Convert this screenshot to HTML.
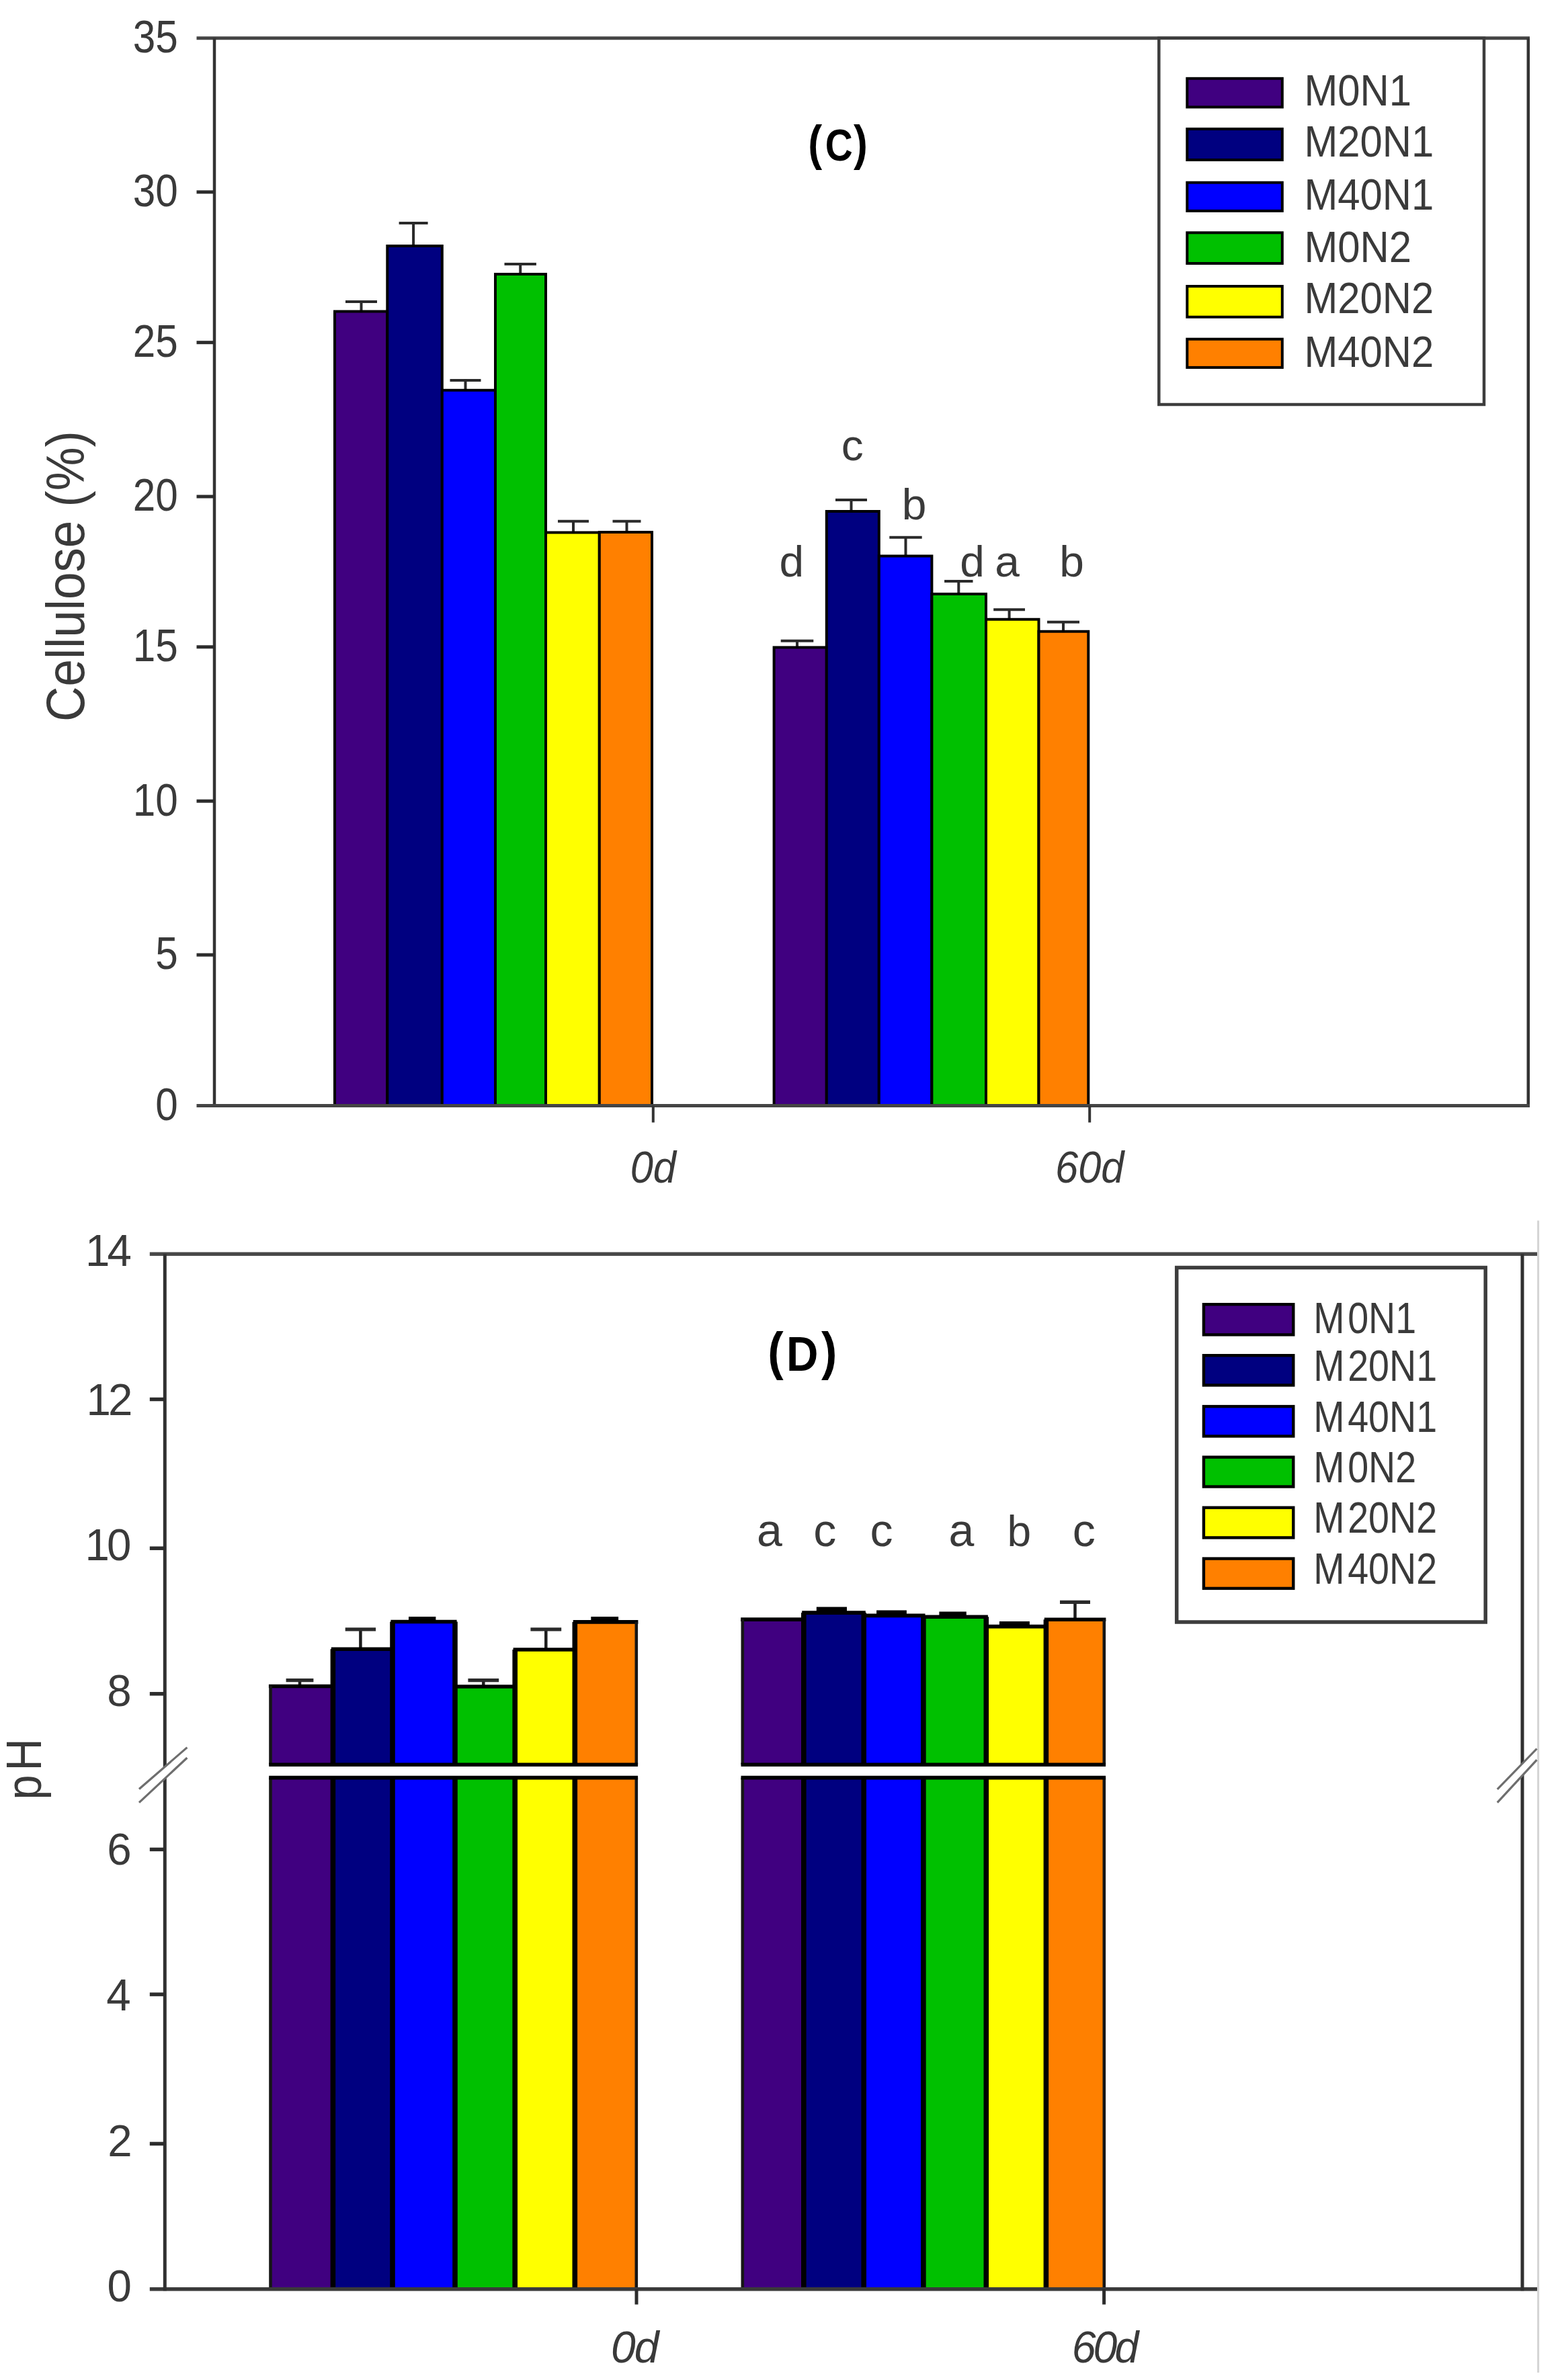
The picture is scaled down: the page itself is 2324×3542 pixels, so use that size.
<!DOCTYPE html>
<html lang="en"><head><meta charset="utf-8"><title>Cellulose and pH charts</title>
<style>
html,body{margin:0;padding:0;background:#fff;}
body{width:2324px;height:3542px;overflow:hidden;}
svg{display:block;font-family:"Liberation Sans",Arial,sans-serif;}
</style></head><body>
<svg width="2324" height="3542" viewBox="0 0 2324 3542">
<rect width="2324" height="3542" fill="#fff"/>
<g id="chartC">
<line x1="537.5" y1="449.0" x2="537.5" y2="464.5" stroke="#2a2a2a" stroke-width="4" />
<line x1="514.0" y1="449.0" x2="561.0" y2="449.0" stroke="#2a2a2a" stroke-width="4" />
<line x1="615.1" y1="332.0" x2="615.1" y2="367.0" stroke="#2a2a2a" stroke-width="4" />
<line x1="593.6" y1="332.0" x2="636.6" y2="332.0" stroke="#2a2a2a" stroke-width="4" />
<line x1="692.5" y1="566.0" x2="692.5" y2="581.7" stroke="#2a2a2a" stroke-width="4" />
<line x1="669.5" y1="566.0" x2="715.5" y2="566.0" stroke="#2a2a2a" stroke-width="4" />
<line x1="774.2" y1="393.0" x2="774.2" y2="409.0" stroke="#2a2a2a" stroke-width="4" />
<line x1="750.5" y1="393.0" x2="797.9" y2="393.0" stroke="#2a2a2a" stroke-width="4" />
<line x1="853.0" y1="775.7" x2="853.0" y2="793.5" stroke="#2a2a2a" stroke-width="4" />
<line x1="830.0" y1="775.7" x2="876.0" y2="775.7" stroke="#2a2a2a" stroke-width="4" />
<line x1="932.5" y1="775.7" x2="932.5" y2="793.0" stroke="#2a2a2a" stroke-width="4" />
<line x1="911.5" y1="775.7" x2="953.5" y2="775.7" stroke="#2a2a2a" stroke-width="4" />
<line x1="1186.0" y1="953.8" x2="1186.0" y2="964.5" stroke="#2a2a2a" stroke-width="4" />
<line x1="1161.7" y1="953.8" x2="1210.3" y2="953.8" stroke="#2a2a2a" stroke-width="4" />
<line x1="1266.5" y1="744.0" x2="1266.5" y2="762.1" stroke="#2a2a2a" stroke-width="4" />
<line x1="1243.0" y1="744.0" x2="1290.0" y2="744.0" stroke="#2a2a2a" stroke-width="4" />
<line x1="1347.5" y1="799.7" x2="1347.5" y2="828.6" stroke="#2a2a2a" stroke-width="4" />
<line x1="1323.3" y1="799.7" x2="1371.7" y2="799.7" stroke="#2a2a2a" stroke-width="4" />
<line x1="1426.3" y1="865.0" x2="1426.3" y2="885.0" stroke="#2a2a2a" stroke-width="4" />
<line x1="1405.1" y1="865.0" x2="1447.5" y2="865.0" stroke="#2a2a2a" stroke-width="4" />
<line x1="1501.6" y1="907.3" x2="1501.6" y2="922.7" stroke="#2a2a2a" stroke-width="4" />
<line x1="1478.2" y1="907.3" x2="1525.0" y2="907.3" stroke="#2a2a2a" stroke-width="4" />
<line x1="1582.0" y1="925.7" x2="1582.0" y2="940.7" stroke="#2a2a2a" stroke-width="4" />
<line x1="1558.0" y1="925.7" x2="1606.0" y2="925.7" stroke="#2a2a2a" stroke-width="4" />
<path d="M498.0,1645.5 V463.5 H576.3 V1645.5" fill="#400080" stroke="#000" stroke-width="4" stroke-linejoin="miter"/>
<path d="M576.3,1645.5 V366.0 H657.8 V1645.5" fill="#000080" stroke="#000" stroke-width="4" stroke-linejoin="miter"/>
<path d="M657.8,1645.5 V580.7 H737.0 V1645.5" fill="#0000ff" stroke="#000" stroke-width="4" stroke-linejoin="miter"/>
<path d="M737.0,1645.5 V408.0 H812.0 V1645.5" fill="#00c000" stroke="#000" stroke-width="4" stroke-linejoin="miter"/>
<path d="M812.0,1645.5 V792.5 H891.8 V1645.5" fill="#ffff00" stroke="#000" stroke-width="4" stroke-linejoin="miter"/>
<path d="M891.8,1645.5 V792.0 H970.0 V1645.5" fill="#ff8000" stroke="#000" stroke-width="4" stroke-linejoin="miter"/>
<path d="M1151.6,1645.5 V963.5 H1229.8 V1645.5" fill="#400080" stroke="#000" stroke-width="4" stroke-linejoin="miter"/>
<path d="M1229.8,1645.5 V761.1 H1307.8 V1645.5" fill="#000080" stroke="#000" stroke-width="4" stroke-linejoin="miter"/>
<path d="M1307.8,1645.5 V827.6 H1386.4 V1645.5" fill="#0000ff" stroke="#000" stroke-width="4" stroke-linejoin="miter"/>
<path d="M1386.4,1645.5 V884.0 H1467.0 V1645.5" fill="#00c000" stroke="#000" stroke-width="4" stroke-linejoin="miter"/>
<path d="M1467.0,1645.5 V921.7 H1545.5 V1645.5" fill="#ffff00" stroke="#000" stroke-width="4" stroke-linejoin="miter"/>
<path d="M1545.5,1645.5 V939.7 H1619.3 V1645.5" fill="#ff8000" stroke="#000" stroke-width="4" stroke-linejoin="miter"/>
<line x1="292.5" y1="56.8" x2="2276.0" y2="56.8" stroke="#444" stroke-width="5" />
<line x1="319.0" y1="56.8" x2="319.0" y2="1647.7" stroke="#333" stroke-width="4.5" />
<line x1="2273.8" y1="56.8" x2="2273.8" y2="1647.7" stroke="#333" stroke-width="4.5" />
<line x1="292.5" y1="1645.5" x2="2276.0" y2="1645.5" stroke="#444" stroke-width="5" />
<line x1="292.5" y1="285.8" x2="319.0" y2="285.8" stroke="#2c2c2c" stroke-width="5" />
<line x1="292.5" y1="509.7" x2="319.0" y2="509.7" stroke="#2c2c2c" stroke-width="5" />
<line x1="292.5" y1="739.0" x2="319.0" y2="739.0" stroke="#2c2c2c" stroke-width="5" />
<line x1="292.5" y1="962.8" x2="319.0" y2="962.8" stroke="#2c2c2c" stroke-width="5" />
<line x1="292.5" y1="1192.2" x2="319.0" y2="1192.2" stroke="#2c2c2c" stroke-width="5" />
<line x1="292.5" y1="1421.1" x2="319.0" y2="1421.1" stroke="#2c2c2c" stroke-width="5" />
<line x1="971.8" y1="1645.5" x2="971.8" y2="1670.5" stroke="#333" stroke-width="4" />
<line x1="1621.2" y1="1645.5" x2="1621.2" y2="1670.5" stroke="#333" stroke-width="4" />
<text transform="translate(264.8,78.1) scale(0.8740,1.0000)" font-size="69" text-anchor="end" fill="#3a3a3a" >35</text>
<text transform="translate(264.8,307.1) scale(0.8740,1.0000)" font-size="69" text-anchor="end" fill="#3a3a3a" >30</text>
<text transform="translate(264.8,531.0) scale(0.8740,1.0000)" font-size="69" text-anchor="end" fill="#3a3a3a" >25</text>
<text transform="translate(264.8,760.3) scale(0.8740,1.0000)" font-size="69" text-anchor="end" fill="#3a3a3a" >20</text>
<text transform="translate(264.8,984.1) scale(0.8740,1.0000)" font-size="69" text-anchor="end" fill="#3a3a3a" >15</text>
<text transform="translate(264.8,1213.5) scale(0.8740,1.0000)" font-size="69" text-anchor="end" fill="#3a3a3a" >10</text>
<text transform="translate(264.8,1442.4) scale(0.8740,1.0000)" font-size="69" text-anchor="end" fill="#3a3a3a" >5</text>
<text transform="translate(264.8,1666.8) scale(0.8740,1.0000)" font-size="69" text-anchor="end" fill="#3a3a3a" >0</text>
<text transform="translate(971.8,1760.3) scale(0.9300,1.0000)" font-size="66" text-anchor="middle" fill="#3a3a3a" font-style="italic">0d</text>
<text transform="translate(1621.2,1760.3) scale(0.9300,1.0000)" font-size="66" text-anchor="middle" fill="#3a3a3a" font-style="italic">60d</text>
<text transform="translate(124.5,857.7) rotate(-90) scale(0.9100,1.0000)" font-size="80" text-anchor="middle" fill="#3a3a3a" >Cellulose (%)</text>
<text transform="scale(0.8600,1)" fill="#000" font-weight="bold"><tspan x="1398.1" y="238.5" font-size="73">(</tspan><tspan x="1427.7" y="239.3" font-size="66">C</tspan><tspan x="1476.9" y="238.5" font-size="73">)</tspan></text>
<text transform="translate(1177.8,857.5) scale(1.0300,1.0000)" font-size="64" text-anchor="middle" fill="#3a3a3a" >d</text>
<text transform="translate(1268.2,684.5) scale(1.0300,1.0000)" font-size="64" text-anchor="middle" fill="#3a3a3a" >c</text>
<text transform="translate(1360.2,772.9) scale(1.0300,1.0000)" font-size="64" text-anchor="middle" fill="#3a3a3a" >b</text>
<text transform="translate(1446.5,857.5) scale(1.0300,1.0000)" font-size="64" text-anchor="middle" fill="#3a3a3a" >d</text>
<text transform="translate(1498.5,857.5) scale(1.0300,1.0000)" font-size="64" text-anchor="middle" fill="#3a3a3a" >a</text>
<text transform="translate(1594.7,857.5) scale(1.0300,1.0000)" font-size="64" text-anchor="middle" fill="#3a3a3a" >b</text>
<rect x="1724.3" y="56.8" width="483.70000000000005" height="545.2" fill="#fff" stroke="#3d3d3d" stroke-width="4.5"/>
<rect x="1766.3" y="116.8" width="141.5" height="42.6" fill="#400080" stroke="#000" stroke-width="4"/>
<text transform="translate(1940.5,157.3) scale(0.9350,1.0000)" font-size="64" text-anchor="start" fill="#3a3a3a" >M0N1</text>
<rect x="1766.3" y="191.9" width="141.5" height="46.1" fill="#000080" stroke="#000" stroke-width="4"/>
<text transform="translate(1940.5,233.0) scale(0.9350,1.0000)" font-size="64" text-anchor="start" fill="#3a3a3a" >M20N1</text>
<rect x="1766.3" y="271.7" width="141.5" height="42.2" fill="#0000ff" stroke="#000" stroke-width="4"/>
<text transform="translate(1940.5,311.5) scale(0.9350,1.0000)" font-size="64" text-anchor="start" fill="#3a3a3a" >M40N1</text>
<rect x="1766.3" y="346.3" width="141.5" height="45.7" fill="#00c000" stroke="#000" stroke-width="4"/>
<text transform="translate(1940.5,390.3) scale(0.9350,1.0000)" font-size="64" text-anchor="start" fill="#3a3a3a" >M0N2</text>
<rect x="1766.3" y="426.0" width="141.5" height="45.8" fill="#ffff00" stroke="#000" stroke-width="4"/>
<text transform="translate(1940.5,466.0) scale(0.9350,1.0000)" font-size="64" text-anchor="start" fill="#3a3a3a" >M20N2</text>
<rect x="1766.3" y="504.7" width="141.5" height="42.2" fill="#ff8000" stroke="#000" stroke-width="4"/>
<text transform="translate(1940.5,545.6) scale(0.9350,1.0000)" font-size="64" text-anchor="start" fill="#3a3a3a" >M40N2</text>
</g>
<g id="chartD">
<line x1="446.0" y1="2500.6" x2="446.0" y2="2509.5" stroke="#1c1c1c" stroke-width="4.5" />
<line x1="425.6" y1="2500.6" x2="466.4" y2="2500.6" stroke="#2a2a2a" stroke-width="5.2" />
<line x1="536.4" y1="2424.8" x2="536.4" y2="2454.2" stroke="#1c1c1c" stroke-width="4.5" />
<line x1="513.7" y1="2424.8" x2="559.1" y2="2424.8" stroke="#2a2a2a" stroke-width="5.2" />
<line x1="608.0" y1="2409.5" x2="648.4" y2="2409.5" stroke="#000" stroke-width="7" />
<line x1="719.3" y1="2500.6" x2="719.3" y2="2510.0" stroke="#1c1c1c" stroke-width="4.5" />
<line x1="696.4" y1="2500.6" x2="742.2" y2="2500.6" stroke="#2a2a2a" stroke-width="5.2" />
<line x1="812.3" y1="2424.8" x2="812.3" y2="2455.0" stroke="#1c1c1c" stroke-width="4.5" />
<line x1="789.4" y1="2424.8" x2="835.2" y2="2424.8" stroke="#2a2a2a" stroke-width="5.2" />
<line x1="879.3" y1="2409.5" x2="920.1" y2="2409.5" stroke="#000" stroke-width="7" />
<line x1="1214.8" y1="2395.0" x2="1260.0" y2="2395.0" stroke="#000" stroke-width="7" />
<line x1="1304.1" y1="2400.0" x2="1348.9" y2="2400.0" stroke="#000" stroke-width="7" />
<line x1="1397.4" y1="2402.0" x2="1437.8" y2="2402.0" stroke="#000" stroke-width="7" />
<line x1="1486.9" y1="2416.5" x2="1531.9" y2="2416.5" stroke="#000" stroke-width="7" />
<line x1="1599.5" y1="2384.4" x2="1599.5" y2="2410.3" stroke="#1c1c1c" stroke-width="4.5" />
<line x1="1577.0" y1="2384.4" x2="1622.0" y2="2384.4" stroke="#2a2a2a" stroke-width="5.2" />
<rect x="402.5" y="2509.5" width="92.9" height="116.8" fill="#400080"/>
<rect x="402.5" y="2645.6" width="92.9" height="761.2" fill="#400080"/>
<rect x="495.4" y="2454.2" width="88.6" height="172.1" fill="#000080"/>
<rect x="495.4" y="2645.6" width="88.6" height="761.2" fill="#000080"/>
<rect x="584.0" y="2413.5" width="93.0" height="212.8" fill="#0000ff"/>
<rect x="584.0" y="2645.6" width="93.0" height="761.2" fill="#0000ff"/>
<rect x="677.0" y="2510.0" width="89.2" height="116.3" fill="#00c000"/>
<rect x="677.0" y="2645.6" width="89.2" height="761.2" fill="#00c000"/>
<rect x="766.2" y="2455.0" width="89.1" height="171.3" fill="#ffff00"/>
<rect x="766.2" y="2645.6" width="89.1" height="761.2" fill="#ffff00"/>
<rect x="855.3" y="2413.9" width="91.5" height="212.4" fill="#ff8000"/>
<rect x="855.3" y="2645.6" width="91.5" height="761.2" fill="#ff8000"/>
<line x1="399.9" y1="2509.5" x2="498.0" y2="2509.5" stroke="#000" stroke-width="5.6" />
<line x1="492.8" y1="2454.2" x2="586.6" y2="2454.2" stroke="#000" stroke-width="5.6" />
<line x1="581.4" y1="2413.5" x2="679.6" y2="2413.5" stroke="#000" stroke-width="5.6" />
<line x1="674.4" y1="2510.0" x2="768.8" y2="2510.0" stroke="#000" stroke-width="5.6" />
<line x1="763.6" y1="2455.0" x2="857.9" y2="2455.0" stroke="#000" stroke-width="5.6" />
<line x1="852.7" y1="2413.9" x2="949.4" y2="2413.9" stroke="#000" stroke-width="5.6" />
<line x1="402.5" y1="2509.5" x2="402.5" y2="2626.3" stroke="#161616" stroke-width="4.6" />
<line x1="402.5" y1="2645.6" x2="402.5" y2="3406.8" stroke="#161616" stroke-width="4.6" />
<line x1="495.4" y1="2454.2" x2="495.4" y2="2626.3" stroke="#000" stroke-width="7.6" />
<line x1="495.4" y1="2645.6" x2="495.4" y2="3406.8" stroke="#000" stroke-width="7.6" />
<line x1="584.0" y1="2413.5" x2="584.0" y2="2626.3" stroke="#000" stroke-width="7.6" />
<line x1="584.0" y1="2645.6" x2="584.0" y2="3406.8" stroke="#000" stroke-width="7.6" />
<line x1="677.0" y1="2413.5" x2="677.0" y2="2626.3" stroke="#000" stroke-width="7.6" />
<line x1="677.0" y1="2645.6" x2="677.0" y2="3406.8" stroke="#000" stroke-width="7.6" />
<line x1="766.2" y1="2455.0" x2="766.2" y2="2626.3" stroke="#000" stroke-width="7.6" />
<line x1="766.2" y1="2645.6" x2="766.2" y2="3406.8" stroke="#000" stroke-width="7.6" />
<line x1="855.3" y1="2413.9" x2="855.3" y2="2626.3" stroke="#000" stroke-width="7.6" />
<line x1="855.3" y1="2645.6" x2="855.3" y2="3406.8" stroke="#000" stroke-width="7.6" />
<line x1="946.8" y1="2413.9" x2="946.8" y2="2626.3" stroke="#161616" stroke-width="4.6" />
<line x1="946.8" y1="2645.6" x2="946.8" y2="3406.8" stroke="#161616" stroke-width="4.6" />
<line x1="400.2" y1="2626.3" x2="949.1" y2="2626.3" stroke="#000" stroke-width="5.6" />
<line x1="400.2" y1="2645.6" x2="949.1" y2="2645.6" stroke="#000" stroke-width="5.6" />
<rect x="1104.8" y="2410.1" width="91.0" height="216.2" fill="#400080"/>
<rect x="1104.8" y="2645.6" width="91.0" height="761.2" fill="#400080"/>
<rect x="1195.8" y="2400.1" width="89.4" height="226.2" fill="#000080"/>
<rect x="1195.8" y="2645.6" width="89.4" height="761.2" fill="#000080"/>
<rect x="1285.2" y="2404.4" width="88.7" height="221.9" fill="#0000ff"/>
<rect x="1285.2" y="2645.6" width="88.7" height="761.2" fill="#0000ff"/>
<rect x="1373.9" y="2406.2" width="93.4" height="220.1" fill="#00c000"/>
<rect x="1373.9" y="2645.6" width="93.4" height="761.2" fill="#00c000"/>
<rect x="1467.3" y="2420.6" width="89.1" height="205.7" fill="#ffff00"/>
<rect x="1467.3" y="2645.6" width="89.1" height="761.2" fill="#ffff00"/>
<rect x="1556.4" y="2410.3" width="86.4" height="216.0" fill="#ff8000"/>
<rect x="1556.4" y="2645.6" width="86.4" height="761.2" fill="#ff8000"/>
<line x1="1102.2" y1="2410.1" x2="1198.4" y2="2410.1" stroke="#000" stroke-width="5.6" />
<line x1="1193.2" y1="2400.1" x2="1287.8" y2="2400.1" stroke="#000" stroke-width="5.6" />
<line x1="1282.6" y1="2404.4" x2="1376.5" y2="2404.4" stroke="#000" stroke-width="5.6" />
<line x1="1371.3" y1="2406.2" x2="1469.9" y2="2406.2" stroke="#000" stroke-width="5.6" />
<line x1="1464.7" y1="2420.6" x2="1559.0" y2="2420.6" stroke="#000" stroke-width="5.6" />
<line x1="1553.8" y1="2410.3" x2="1645.4" y2="2410.3" stroke="#000" stroke-width="5.6" />
<line x1="1104.8" y1="2410.1" x2="1104.8" y2="2626.3" stroke="#161616" stroke-width="4.6" />
<line x1="1104.8" y1="2645.6" x2="1104.8" y2="3406.8" stroke="#161616" stroke-width="4.6" />
<line x1="1195.8" y1="2400.1" x2="1195.8" y2="2626.3" stroke="#000" stroke-width="7.6" />
<line x1="1195.8" y1="2645.6" x2="1195.8" y2="3406.8" stroke="#000" stroke-width="7.6" />
<line x1="1285.2" y1="2400.1" x2="1285.2" y2="2626.3" stroke="#000" stroke-width="7.6" />
<line x1="1285.2" y1="2645.6" x2="1285.2" y2="3406.8" stroke="#000" stroke-width="7.6" />
<line x1="1373.9" y1="2404.4" x2="1373.9" y2="2626.3" stroke="#000" stroke-width="7.6" />
<line x1="1373.9" y1="2645.6" x2="1373.9" y2="3406.8" stroke="#000" stroke-width="7.6" />
<line x1="1467.3" y1="2406.2" x2="1467.3" y2="2626.3" stroke="#000" stroke-width="7.6" />
<line x1="1467.3" y1="2645.6" x2="1467.3" y2="3406.8" stroke="#000" stroke-width="7.6" />
<line x1="1556.4" y1="2410.3" x2="1556.4" y2="2626.3" stroke="#000" stroke-width="7.6" />
<line x1="1556.4" y1="2645.6" x2="1556.4" y2="3406.8" stroke="#000" stroke-width="7.6" />
<line x1="1642.8" y1="2410.3" x2="1642.8" y2="2626.3" stroke="#161616" stroke-width="4.6" />
<line x1="1642.8" y1="2645.6" x2="1642.8" y2="3406.8" stroke="#161616" stroke-width="4.6" />
<line x1="1102.5" y1="2626.3" x2="1645.1" y2="2626.3" stroke="#000" stroke-width="5.6" />
<line x1="1102.5" y1="2645.6" x2="1645.1" y2="2645.6" stroke="#000" stroke-width="5.6" />
<line x1="222.8" y1="1866.3" x2="2287.0" y2="1866.3" stroke="#484848" stroke-width="5.5" />
<line x1="222.8" y1="3406.8" x2="2287.0" y2="3406.8" stroke="#3a3a3a" stroke-width="5.5" />
<line x1="245.3" y1="1866.3" x2="245.3" y2="3409.3" stroke="#303030" stroke-width="5" />
<line x1="2265.0" y1="1866.3" x2="2265.0" y2="3409.3" stroke="#303030" stroke-width="5" />
<line x1="222.8" y1="2082.5" x2="245.3" y2="2082.5" stroke="#2c2c2c" stroke-width="5.5" />
<line x1="222.8" y1="2304.2" x2="245.3" y2="2304.2" stroke="#2c2c2c" stroke-width="5.5" />
<line x1="222.8" y1="2520.8" x2="245.3" y2="2520.8" stroke="#2c2c2c" stroke-width="5.5" />
<line x1="222.8" y1="2752.4" x2="245.3" y2="2752.4" stroke="#2c2c2c" stroke-width="5.5" />
<line x1="222.8" y1="2968.1" x2="245.3" y2="2968.1" stroke="#2c2c2c" stroke-width="5.5" />
<line x1="222.8" y1="3190.4" x2="245.3" y2="3190.4" stroke="#2c2c2c" stroke-width="5.5" />
<line x1="947.0" y1="3406.8" x2="947.0" y2="3429.6" stroke="#2c2c2c" stroke-width="5" />
<line x1="1642.6" y1="3406.8" x2="1642.6" y2="3429.6" stroke="#2c2c2c" stroke-width="5" />
<line x1="2288.6" y1="1816.4" x2="2288.6" y2="3531.0" stroke="#d4d4d4" stroke-width="3" />
<polygon points="207.0,2662.5 278.4,2600.6 278.4,2616.0 207.0,2682.7" fill="#fff"/>
<line x1="207.0" y1="2662.5" x2="278.4" y2="2600.6" stroke="#6e6e6e" stroke-width="3.2" />
<line x1="207.0" y1="2682.7" x2="278.4" y2="2616.0" stroke="#6e6e6e" stroke-width="3.2" />
<polygon points="2227.8,2662.9 2286.5,2602.5 2286.5,2619.2 2227.8,2682.7" fill="#fff"/>
<line x1="2227.8" y1="2662.9" x2="2286.5" y2="2602.5" stroke="#6e6e6e" stroke-width="3.2" />
<line x1="2227.8" y1="2682.7" x2="2286.5" y2="2619.2" stroke="#6e6e6e" stroke-width="3.2" />
<text transform="translate(192.0,1883.8) scale(0.9850,1.0000)" font-size="66.5" text-anchor="end" fill="#3a3a3a" letter-spacing="-4" >14</text>
<text transform="translate(193.5,2105.7) scale(0.9850,1.0000)" font-size="66.5" text-anchor="end" fill="#3a3a3a" letter-spacing="-4" >12</text>
<text transform="translate(191.5,2322.3) scale(0.9850,1.0000)" font-size="66.5" text-anchor="end" fill="#3a3a3a" letter-spacing="-4" >10</text>
<text transform="translate(191.8,2539.2) scale(0.9850,1.0000)" font-size="66.5" text-anchor="end" fill="#3a3a3a" letter-spacing="-4" >8</text>
<text transform="translate(191.8,2774.8) scale(0.9850,1.0000)" font-size="66.5" text-anchor="end" fill="#3a3a3a" letter-spacing="-4" >6</text>
<text transform="translate(190.8,2991.6) scale(0.9850,1.0000)" font-size="66.5" text-anchor="end" fill="#3a3a3a" letter-spacing="-4" >4</text>
<text transform="translate(192.8,3209.4) scale(0.9850,1.0000)" font-size="66.5" text-anchor="end" fill="#3a3a3a" letter-spacing="-4" >2</text>
<text transform="translate(192.0,3425.3) scale(0.9850,1.0000)" font-size="66.5" text-anchor="end" fill="#3a3a3a" letter-spacing="-4" >0</text>
<text transform="translate(943.8,3515.7)" font-size="66" text-anchor="middle" fill="#3a3a3a" letter-spacing="-2" font-style="italic">0d</text>
<text transform="translate(1642.5,3515.7) scale(0.9750,1.0000)" font-size="66" text-anchor="middle" fill="#3a3a3a" letter-spacing="-4" font-style="italic">60d</text>
<text transform="translate(60.8,2678.5) rotate(-90) scale(0.8900,1.0000)" font-size="75" text-anchor="start" fill="#3a3a3a" letter-spacing="6.5" >pH</text>
<text transform="scale(0.9000,1)" fill="#000" font-weight="bold"><tspan x="1269.2" y="2037.9" font-size="78">(</tspan><tspan x="1300.1" y="2040.5" font-size="73">D</tspan><tspan x="1357.8" y="2037.9" font-size="78">)</tspan></text>
<text transform="translate(1144.8,2301.3)" font-size="68" text-anchor="middle" fill="#3a3a3a" >a</text>
<text transform="translate(1227.3,2301.3)" font-size="68" text-anchor="middle" fill="#3a3a3a" >c</text>
<text transform="translate(1311.5,2301.3)" font-size="68" text-anchor="middle" fill="#3a3a3a" >c</text>
<text transform="translate(1430.3,2301.3)" font-size="68" text-anchor="middle" fill="#3a3a3a" >a</text>
<text transform="translate(1516.3,2301.3)" font-size="64" text-anchor="middle" fill="#3a3a3a" >b</text>
<text transform="translate(1612.8,2301.3)" font-size="68" text-anchor="middle" fill="#3a3a3a" >c</text>
<rect x="1750.7" y="1886.5" width="459.4999999999998" height="527.5" fill="#fff" stroke="#3d3d3d" stroke-width="5.5"/>
<rect x="1790.9" y="1941.2" width="133.4" height="45.2" fill="#400080" stroke="#000" stroke-width="4.4"/>
<text transform="translate(1954.2,1984.0) scale(0.8550,1.0000)" font-size="65" text-anchor="start" fill="#3a3a3a" dx="0 5.5 0 0" >M0N1</text>
<rect x="1790.9" y="2017.2" width="133.4" height="44.3" fill="#000080" stroke="#000" stroke-width="4.4"/>
<text transform="translate(1954.2,2054.9) scale(0.8550,1.0000)" font-size="65" text-anchor="start" fill="#3a3a3a" dx="0 5.5 0 0 0" >M20N1</text>
<rect x="1790.9" y="2093.1" width="133.4" height="44.3" fill="#0000ff" stroke="#000" stroke-width="4.4"/>
<text transform="translate(1954.2,2130.8) scale(0.8550,1.0000)" font-size="65" text-anchor="start" fill="#3a3a3a" dx="0 5.5 0 0 0" >M40N1</text>
<rect x="1790.9" y="2168.6" width="133.4" height="43.9" fill="#00c000" stroke="#000" stroke-width="4.4"/>
<text transform="translate(1954.2,2205.5) scale(0.8550,1.0000)" font-size="65" text-anchor="start" fill="#3a3a3a" dx="0 5.5 0 0" >M0N2</text>
<rect x="1790.9" y="2243.7" width="133.4" height="44.7" fill="#ffff00" stroke="#000" stroke-width="4.4"/>
<text transform="translate(1954.2,2281.4) scale(0.8550,1.0000)" font-size="65" text-anchor="start" fill="#3a3a3a" dx="0 5.5 0 0 0" >M20N2</text>
<rect x="1790.9" y="2319.6" width="133.4" height="44.3" fill="#ff8000" stroke="#000" stroke-width="4.4"/>
<text transform="translate(1954.2,2357.3) scale(0.8550,1.0000)" font-size="65" text-anchor="start" fill="#3a3a3a" dx="0 5.5 0 0 0" >M40N2</text>
</g>
</svg>
</body></html>
